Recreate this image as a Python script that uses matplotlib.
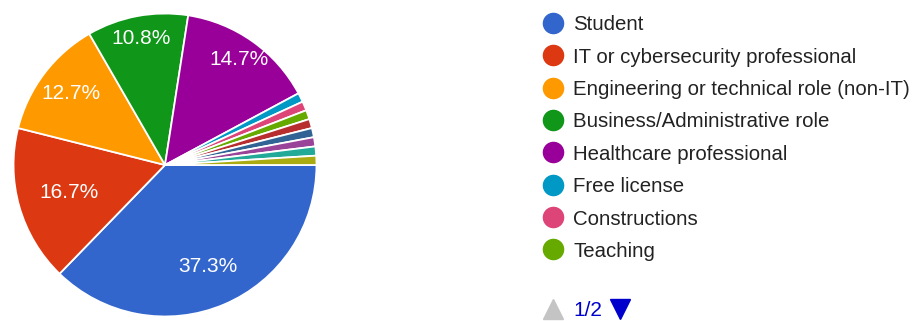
import matplotlib
matplotlib.use("Agg")
import matplotlib.pyplot as plt
import numpy as np
from matplotlib.lines import Line2D

plt.rcParams['font.family'] = ['Liberation Sans', 'DejaVu Sans']

categories = ["Student", "IT or cybersecurity professional",
              "Engineering or technical role (non-IT)",
              "Business/Administrative role", "Healthcare professional",
              "Free license", "Constructions", "Teaching"]
values = [38, 17, 13, 11, 15, 1, 1, 1]
# further categories on legend page 2 (names not visible)
extra_values = [1, 1, 1, 1, 1]
colors = ["#3366cc", "#dc3912", "#ff9900", "#109618", "#990099",
          "#0099c6", "#dd4477", "#66aa00", "#b82e2e", "#316395",
          "#994499", "#22aa99", "#aaaa11"]

all_values = values + extra_values
label_dist = [0.73, 0.66, 0.78, 0.85, 0.85]

W, H = 914, 321
fig = plt.figure(figsize=(W / 100, H / 100), dpi=100)
ax = fig.add_axes([12 / W, 3 / H, 306 / W, 306 / H])

def fmt(p):
    return f"{p:.1f}%" if p >= 5 else ""

wedges, texts, autotexts = ax.pie(
    all_values, colors=colors[:len(all_values)], startangle=0,
    counterclock=False, radius=1.0, autopct=fmt, pctdistance=0.72,
    wedgeprops=dict(edgecolor="white", linewidth=1.3),
    textprops=dict(color="white", fontsize=15))
for w, t, d in zip(wedges, autotexts, label_dist):
    th = np.deg2rad((w.theta1 + w.theta2) / 2)
    t.set_position((d * np.cos(th), d * np.sin(th)))
ax.set_xlim(-1.01, 1.01)
ax.set_ylim(-1.01, 1.01)
ax.set_aspect("equal")
ax.axis("off")

# legend
y0, dy = 22.7, 32.4
for i, (lab, col) in enumerate(zip(categories, colors)):
    y = y0 + i * dy
    fig.add_artist(Line2D([553 / W], [1 - y / H], marker="o", markersize=14.5,
                          color=col, linestyle="none", transform=fig.transFigure))
    fig.text(573 / W, 1 - y / H, lab, fontsize=14.7, color="#222222",
             va="center_baseline", ha="left")

# pagination
yp = 1 - 309 / H
fig.add_artist(Line2D([553 / W], [yp], marker="^", markersize=14.5,
                      color="#c4c4c4", linestyle="none", transform=fig.transFigure))
fig.text(573 / W, yp, "1/2", fontsize=15, color="#0000cc", va="center_baseline")
fig.add_artist(Line2D([620 / W], [yp], marker="v", markersize=14.5,
                      color="#0000cc", linestyle="none", transform=fig.transFigure))

fig.savefig("out.png", dpi=100, facecolor="white")
